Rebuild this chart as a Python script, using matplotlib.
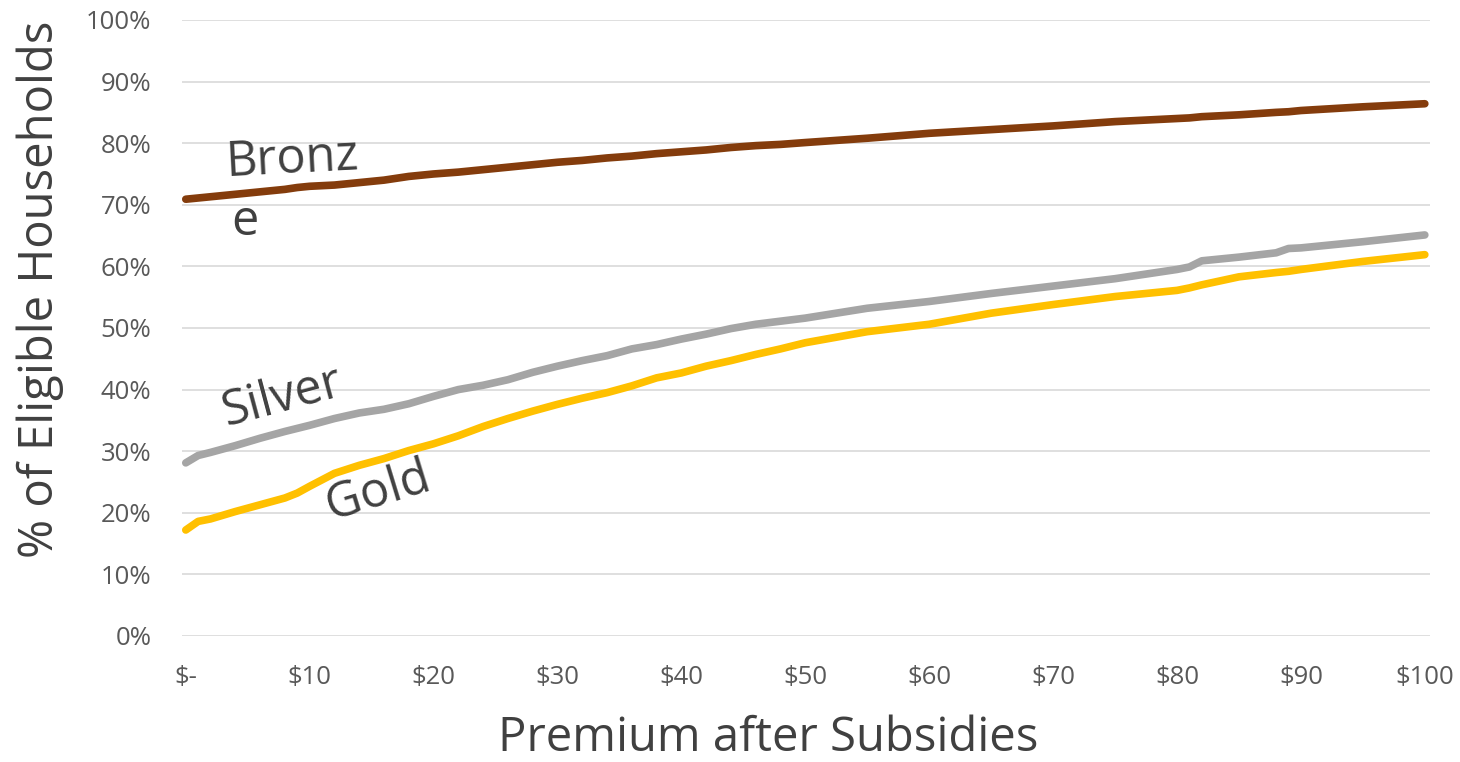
import matplotlib.pyplot as plt
from matplotlib.ticker import FuncFormatter

plt.rcParams['font.family'] = ['Open Sans', 'DejaVu Sans']

# premium after subsidies ($/month)
premium = [0, 1, 2, 4, 6, 8, 9, 10, 12, 14, 16, 18, 20, 22, 24, 26, 28, 30, 32, 34,
           36, 38, 40, 42, 44, 46, 48, 50, 55, 60, 65, 70, 75, 80, 81, 82, 85, 88,
           89, 90, 95, 100]

# share of eligible households (%)
bronze = [70.9, 71.1, 71.3, 71.7, 72.1, 72.5, 72.8, 73.0, 73.2, 73.6, 74.0, 74.6,
          75.0, 75.3, 75.7, 76.1, 76.5, 76.9, 77.2, 77.6, 77.9, 78.3, 78.6, 78.9,
          79.3, 79.6, 79.8, 80.1, 80.8, 81.6, 82.2, 82.8, 83.5, 84.0, 84.1, 84.3,
          84.6, 85.0, 85.1, 85.3, 85.9, 86.4]
silver = [28.1, 29.3, 29.8, 30.9, 32.1, 33.2, 33.7, 34.2, 35.3, 36.2, 36.8, 37.7,
          38.9, 40.0, 40.7, 41.6, 42.8, 43.8, 44.7, 45.5, 46.6, 47.3, 48.2, 49.0,
          49.9, 50.6, 51.1, 51.6, 53.2, 54.3, 55.6, 56.8, 58.0, 59.5, 59.9, 60.9,
          61.5, 62.2, 62.9, 63.0, 64.0, 65.1]
gold = [17.2, 18.6, 19.0, 20.2, 21.3, 22.4, 23.2, 24.3, 26.4, 27.7, 28.8, 30.1,
        31.2, 32.5, 34.0, 35.3, 36.5, 37.6, 38.6, 39.5, 40.6, 41.9, 42.7, 43.8,
        44.7, 45.7, 46.6, 47.6, 49.4, 50.6, 52.4, 53.8, 55.1, 56.1, 56.5, 57.0,
        58.3, 59.0, 59.2, 59.5, 60.8, 61.9]

x_ticks = [0, 10, 20, 30, 40, 50, 60, 70, 80, 90, 100]
x_tick_labels = ['$-', '$10', '$20', '$30', '$40', '$50', '$60', '$70', '$80', '$90', '$100']
y_ticks = [0, 10, 20, 30, 40, 50, 60, 70, 80, 90, 100]

fig = plt.figure(figsize=(14.6, 7.62), dpi=100)
ax = fig.add_axes([0.1247, 0.1654, 0.8546, 0.8084])

ax.plot(premium, bronze, color='#843C0C', lw=5.5, solid_capstyle='round', zorder=3)
ax.plot(premium, silver, color='#A5A5A5', lw=5.5, solid_capstyle='round', zorder=3)
ax.plot(premium, gold, color='#FFC000', lw=5.5, solid_capstyle='round', zorder=3)

ax.set_xlim(-0.3, 100.4)
ax.set_ylim(0, 100)
ax.set_xticks(x_ticks)
ax.set_xticklabels(x_tick_labels)
ax.set_yticks(y_ticks)
ax.yaxis.set_major_formatter(FuncFormatter(lambda v, _: f'{v:.0f}%'))
ax.tick_params(axis='both', length=0, labelsize=18.5, labelcolor='#595959')
ax.tick_params(axis='x', pad=21)
ax.tick_params(axis='y', pad=22)
ax.grid(axis='y', color='#D9D9D9', lw=1.2)
ax.set_axisbelow(True)
for s in ax.spines.values():
    s.set_visible(False)

ax.set_ylabel('% of Eligible Households', fontsize=34, color='#404040', va='center')
ax.yaxis.set_label_coords(-0.114, 0.562)
ax.set_xlabel('Premium after Subsidies', fontsize=34, color='#404040', va='center')
ax.xaxis.set_label_coords(0.47, -0.166)

# series labels next to the lines
ax.text(8.6, 77.3, 'Bronz', fontsize=35, color='#404040', rotation=3,
        ha='center', va='center')
ax.text(4.8, 67.2, 'e', fontsize=35, color='#404040', ha='center', va='center')
ax.text(7.8, 38.6, 'Silver', fontsize=35, color='#404040', rotation=15,
        ha='center', va='center')
ax.text(15.5, 23.4, 'Gold', fontsize=35, color='#404040', rotation=17,
        ha='center', va='center')

fig.savefig('out.png', dpi=100)
